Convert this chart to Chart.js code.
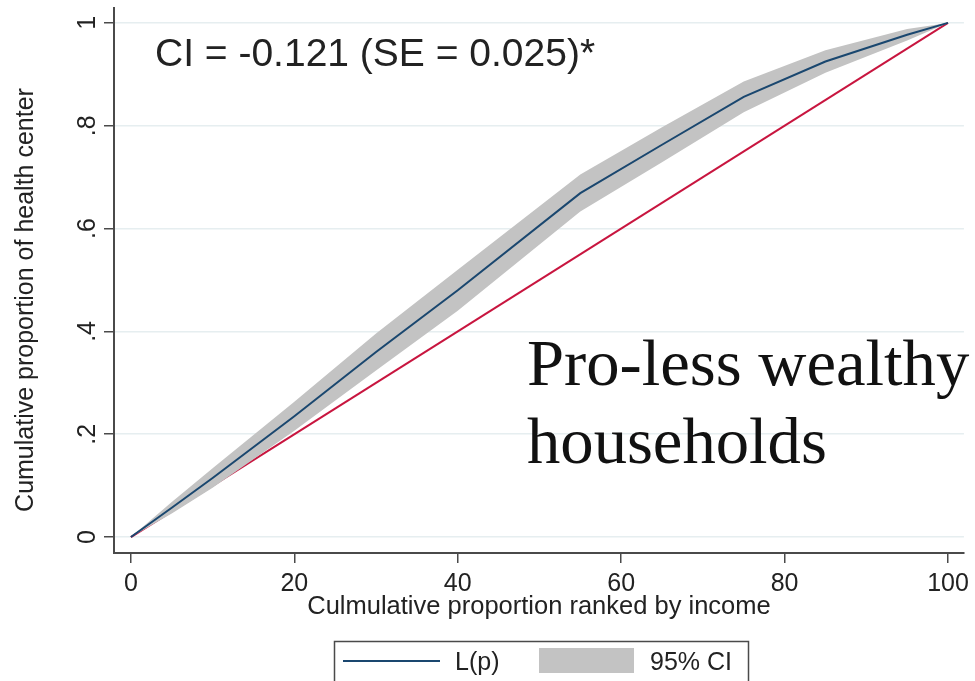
<!DOCTYPE html>
<html>
<head>
<meta charset="utf-8">
<script src="https://cdn.jsdelivr.net/npm/chart.js@4.4.0/dist/chart.umd.min.js"></script>
<style>
  html, body { margin: 0; padding: 0; background: #fff; }
  #wrap { width: 975px; height: 681px; }
</style>
</head>
<body>
<div id="wrap"><canvas id="mycanvas" width="975" height="681"></canvas></div>
<script>
// values
var pctRanked = [0, 5, 10, 20, 30, 40, 55, 65, 75, 85, 95, 100];
var lorenz    = [0, 0.057, 0.115, 0.235, 0.36, 0.48, 0.669, 0.763, 0.856, 0.925, 0.977, 1];
var ciHigh    = [0, 0.068, 0.134, 0.263, 0.396, 0.52, 0.705, 0.797, 0.886, 0.947, 0.988, 1];
var ciLow     = [0, 0.046, 0.096, 0.207, 0.324, 0.44, 0.633, 0.729, 0.826, 0.903, 0.966, 1];
var equalX    = [0, 100];
var equalY    = [0, 1];
var xTicks    = [0, 20, 40, 60, 80, 100];
var yTicks    = [0, 0.2, 0.4, 0.6, 0.8, 1];
var yTickText = ['0', '.2', '.4', '.6', '.8', '1'];

var sans = 'Liberation Sans, Arial, sans-serif';
var navy = '#1a476f';
var red = '#c8153f';
var band = '#c3c3c3';
var axisCol = '#4a4a4a';

function pts(xs, ys) {
  var out = [];
  for (var i in xs) out.push({x: xs[i], y: ys[i]});
  return out;
}

var textPlugin = {
  id: 'stataText',
  afterDraw: function(chart) {
    var ctx = chart.ctx;
    var ys = chart.scales.y;
    ctx.save();
    ctx.fillStyle = '#222';
    // rotated y tick labels
    ctx.font = '25px ' + sans;
    ctx.textAlign = 'center';
    ctx.textBaseline = 'alphabetic';
    for (var i in yTicks) {
      var py = ys.getPixelForValue(yTicks[i]);
      ctx.save();
      ctx.translate(95, py);
      ctx.rotate(-Math.PI / 2);
      ctx.fillText(yTickText[i], 0, 0);
      ctx.restore();
    }
    // y axis title
    ctx.save();
    ctx.translate(33, 300);
    ctx.rotate(-Math.PI / 2);
    ctx.fillText('Cumulative proportion of health center', 0, 0);
    ctx.restore();

    // annotations
    ctx.textAlign = 'left';
    ctx.font = '39px ' + sans;
    ctx.fillText('CI = -0.121 (SE = 0.025)*', 155, 66);
    ctx.fillStyle = '#111';
    ctx.font = '65px Liberation Serif, serif';
    ctx.save();
    ctx.translate(527, 0);
    ctx.scale(1.025, 1);
    ctx.fillText('Pro-less wealthy', 0, 385);
    ctx.fillText('households', 0, 463);
    ctx.restore();

    // legend
    var ds = chart.data.datasets;
    ctx.strokeStyle = axisCol;
    ctx.lineWidth = 1.5;
    ctx.strokeRect(334.5, 641.5, 414, 60);
    ctx.strokeStyle = ds[0].borderColor;
    ctx.lineWidth = 2;
    ctx.beginPath();
    ctx.moveTo(343, 661);
    ctx.lineTo(440, 661);
    ctx.stroke();
    ctx.fillStyle = ds[1].backgroundColor;
    ctx.fillRect(539, 648, 95, 25);
    ctx.fillStyle = '#222';
    ctx.font = '25px ' + sans;
    ctx.fillText(ds[0].label, 455, 670);
    ctx.fillText(ds[1].label, 650, 670);
    ctx.restore();
  }
};

var ctx = document.getElementById('mycanvas');

var lineChart = new Chart(ctx, {
  type: 'line',
  data: {
    datasets: [
      {
        label: 'L(p)',
        data: pts(pctRanked, lorenz),
        borderColor: navy,
        borderWidth: 2,
        pointRadius: 0,
        fill: false,
        order: 0
      },
      {
        label: '95% CI',
        data: pts(pctRanked, ciHigh),
        borderColor: band,
        backgroundColor: band,
        borderWidth: 0,
        pointRadius: 0,
        fill: '+1',
        order: 1
      },
      {
        label: 'ci low',
        data: pts(pctRanked, ciLow),
        borderColor: band,
        borderWidth: 0,
        pointRadius: 0,
        fill: false,
        order: 2
      },
      {
        label: 'equality',
        data: pts(equalX, equalY),
        borderColor: red,
        borderWidth: 2,
        pointRadius: 0,
        fill: false,
        order: 3
      }
    ]
  },
  options: {
    responsive: false,
    animation: false,
    layout: { padding: { left: 0, right: 8, top: 8, bottom: 59 } },
    plugins: { legend: { display: false }, tooltip: { enabled: false } },
    scales: {
      x: {
        type: 'linear',
        min: -2.07,
        max: 101.95,
        afterBuildTicks: function(s) { s.ticks = xTicks.map(function(v) { return {value: v}; }); },
        afterFit: function(s) { s.height = 69; },
        grid: { drawOnChartArea: false, tickLength: 10, color: axisCol, lineWidth: 1.5 },
        border: { display: true, color: axisCol, width: 2 },
        ticks: { color: '#222', font: { family: sans, size: 25 }, padding: 6, maxRotation: 0 },
        title: {
          display: true,
          text: 'Culmulative proportion ranked by income',
          color: '#222',
          font: { family: sans, size: 25.5 },
          padding: 0
        }
      },
      y: {
        type: 'linear',
        min: -0.031,
        max: 1.029,
        afterBuildTicks: function(s) { s.ticks = yTicks.map(function(v) { return {value: v}; }); },
        afterFit: function(s) { s.width = 114; },
        grid: { color: '#e6eef0', lineWidth: 1.5, tickLength: 10, tickColor: axisCol },
        border: { display: true, color: axisCol, width: 2 },
        ticks: { display: false }
      }
    }
  },
  plugins: [textPlugin]
});
</script>
</body>
</html>
